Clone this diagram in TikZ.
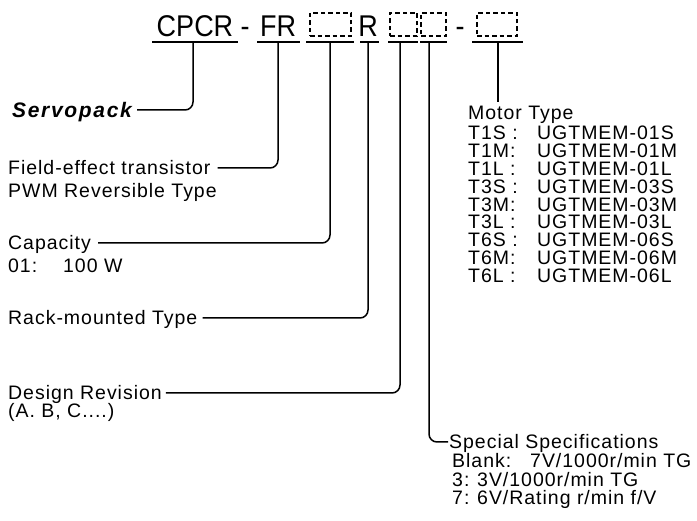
\documentclass[tikz,border=0pt]{standalone}
\usepackage{fontspec}
\setmainfont{Liberation Sans}[LetterSpace=5]
\newfontfamily\codefont{Liberation Sans}[FakeStretch=0.9]
\newfontfamily\servfont{Liberation Sans}[LetterSpace=8]
\begin{document}
\begin{tikzpicture}[x=1pt,y=-1pt]
\tikzset{
  lab/.style={inner sep=0pt, anchor=west, text height=14pt, text depth=0pt,
              font=\fontsize{19.5}{22}\selectfont},
  code/.style={inner sep=0pt, anchor=base, font=\codefont\fontsize{30}{32}\selectfont},
  ul/.style={line width=2.8pt},
  conn/.style={line width=1.5pt, rounded corners=8pt},
  dbox/.style={draw, dash pattern=on 4.5pt off 3pt, line width=1.4pt, inner sep=0pt, minimum height=23pt},
}
\useasboundingbox (0,0) rectangle (697,521);
% code line
\node[code] (cpcr) at (195,37) {CPCR};
\node[code] (d1) at (245,37) {-};
\node[code] (fr) at (278,37) {FR};
\node[dbox, minimum width=41pt] (b1) at (330.5,24.5) {};
\node[code] (r) at (368,37) {R};
\node[dbox, minimum width=27pt] (b2) at (403.5,24.5) {};
\node[dbox, minimum width=25pt] (b3) at (433.5,24.5) {};
\node[code] (d2) at (460,37) {-};
\node[dbox, minimum width=40pt] (b4) at (497,24.5) {};
% underlines
\draw[ul] (152,42) -- (238,42);
\draw[ul] (257,42) -- (300,42);
\draw[ul] (306,42) -- (354,42);
\draw[ul] (360,42) -- (379,42);
\draw[ul] (388,42) -- (418,42);
\draw[ul] (420,42) -- (447,42);
\draw[ul] (472,42) -- (523,42);
\coordinate (t1) at (193,42);
\coordinate (t2) at (278,42);
\coordinate (t3) at (330,42);
\coordinate (t4) at (368,42);
\coordinate (t5) at (400,42);
\coordinate (t6) at (429,42);
\coordinate (t7) at (498,42);
\coordinate (m7) at (498,102);
% left labels
\node[lab, font=\servfont\bfseries\itshape\fontsize{21}{24}\selectfont, text height=15pt] (serv) at (12,110) {Servopack};
\node[lab] (fet) at (8,168) {Field-effect transistor};
\node[lab] (pwm) at (8,191) {PWM Reversible Type};
\node[lab] (cap) at (8,243) {Capacity};
\node[lab] (c01) at (8,266) {01:};
\node[lab] (c100) at (63,266) {100 W};
\node[lab] (rack) at (8,318) {Rack-mounted Type};
\node[lab] (des) at (8,393) {Design Revision};
\node[lab] (abc) at (8,411) {(A. B, C....)};
% right labels
\node[lab] (motor) at (468,113) {Motor Type};
\foreach \k/\a/\b [count=\i from 0] in {1S/T1S :/01S, 1M/T1M:/01M, 1L/T1L :/01L,
    3S/T3S :/03S, 3M/T3M:/03M, 3L/T3L :/03L, 6S/T6S :/06S, 6M/T6M:/06M, 6L/T6L :/06L}{
  \node[lab] (k\k) at (468,133+17.8*\i) {\a};
  \node[lab] (v\k) at (537,133+17.8*\i) {UGTMEM-\b};
}
\node[lab] (spec) at (449,442) {Special Specifications};
\node[lab] (sb) at (452,461) {Blank:};
\node[lab] (sbv) at (530,461) {7V/1000r/min TG};
\node[lab] (s3) at (452,479.5) {3:};
\node[lab] (s3v) at (477,479.5) {3V/1000r/min TG};
\node[lab] (s7) at (452,498) {7:};
\node[lab] (s7v) at (477,498) {6V/Rating r/min f/V};
% connectors
\draw[conn] ([xshift=5pt]serv.east) -| (t1);
\draw[conn] ([xshift=7pt]fet.east) -| (t2);
\draw[conn] ([xshift=7pt]cap.east) -| (t3);
\draw[conn] ([xshift=5pt]rack.east) -| (t4);
\draw[conn] ([xshift=4pt]des.east) -| (t5);
\draw[conn] (t6) |- ([xshift=-1pt]spec.west);
\draw[conn] (t7) -- (m7);
\end{tikzpicture}
\end{document}
